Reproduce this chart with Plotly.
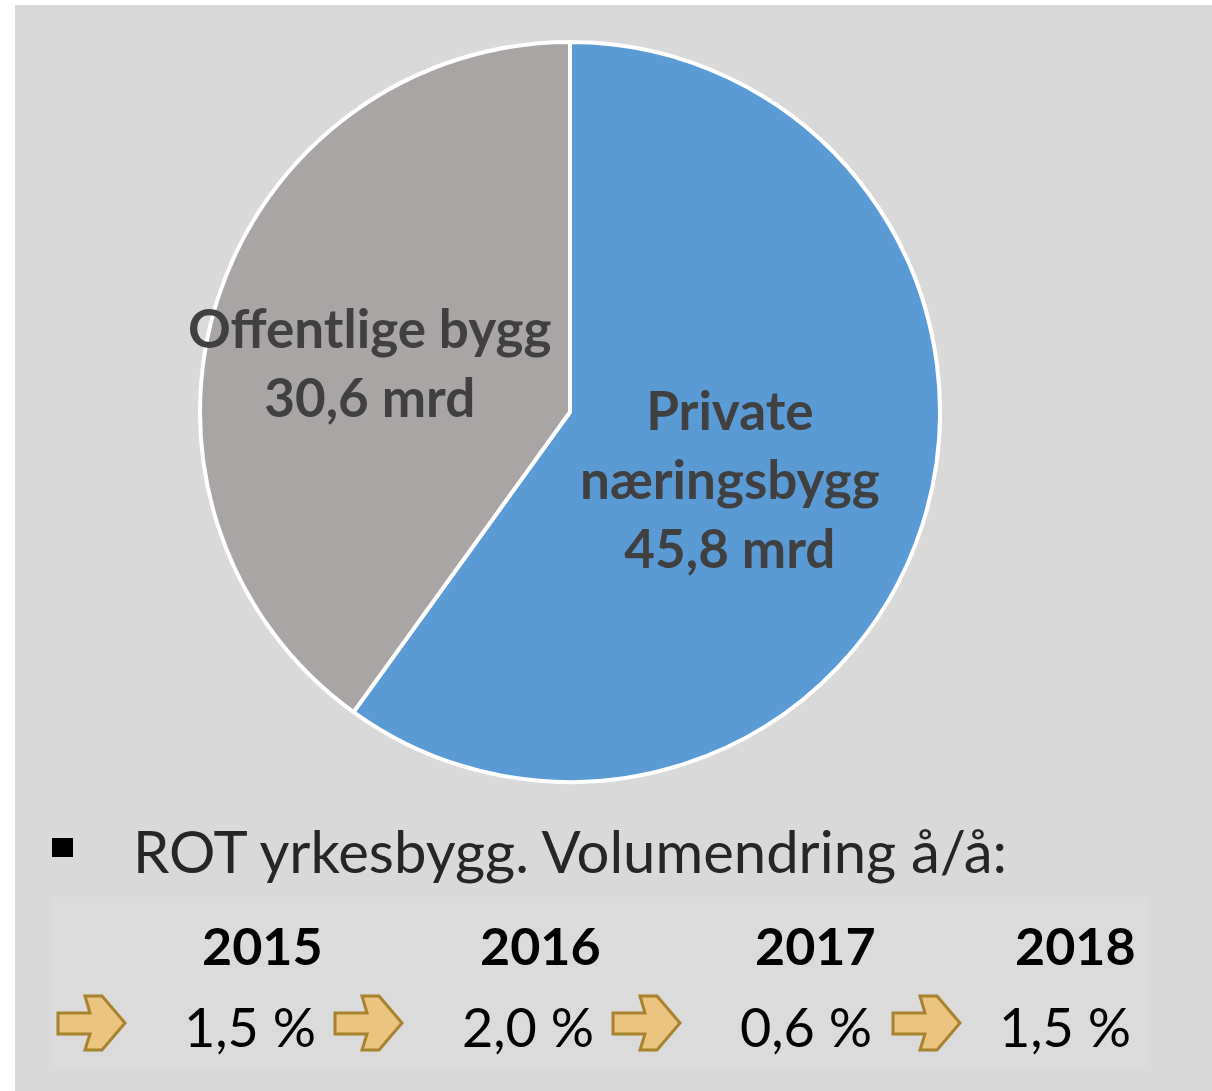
import plotly.graph_objects as go

# ---- data ----
categories = ["Private næringsbygg", "Offentlige bygg"]
pie_label_text = ["Private<br>næringsbygg", "Offentlige bygg"]
values = [45.8, 30.6]
colors = ["#5b9bd5", "#a9a5a4"]
unit = "mrd"

bullet_text = "ROT yrkesbygg. Volumendring å/å:"
years = ["2015", "2016", "2017", "2018"]
changes = [1.5, 2.0, 0.6, 1.5]

W, H = 1212, 1091


def X(px):
    return px / W


def Y(py):
    return 1 - py / H


def fmt(v):
    return f"{v:.1f}".replace(".", ",")


fig = go.Figure()
fig.add_trace(go.Pie(
    labels=categories,
    values=values,
    marker=dict(colors=colors, line=dict(color="white", width=4)),
    sort=False,
    direction="clockwise",
    rotation=0,
    textinfo="none",
    hoverinfo="label+value",
    showlegend=False,
    domain=dict(x=[X(200), X(940)], y=[Y(782), Y(42)]),
))

shapes = []
# gray panel
shapes.append(dict(type="rect", xref="paper", yref="paper", x0=X(15), x1=1, y0=0, y1=Y(5),
                   fillcolor="#d9d9d9", line=dict(width=0), layer="below"))
# subtle inner table box
shapes.append(dict(type="rect", xref="paper", yref="paper", x0=X(52), x1=X(1147), y0=Y(1068), y1=Y(897),
                   fillcolor="#dbdbdb", line=dict(width=0), layer="below"))
# bullet square
shapes.append(dict(type="rect", xref="paper", yref="paper", x0=X(52), x1=X(73), y0=Y(857), y1=Y(838),
                   fillcolor="#000000", line=dict(width=0)))

annotations = []
# pie labels
label_pos = [(730, 478), (370, 362)]
for txt, v, (cx, cy) in zip(pie_label_text, values, label_pos):
    annotations.append(dict(
        x=X(cx), y=Y(cy), xref="paper", yref="paper", showarrow=False,
        text=f"<b>{txt}<br>{fmt(v)} {unit}</b>",
        font=dict(family="Lato", size=53, color="#404040"),
        xanchor="center", yanchor="middle",
    ))

annotations.append(dict(
    x=X(131), y=Y(850), xref="paper", yref="paper", showarrow=False,
    text=bullet_text, font=dict(family="Lato", size=58, color="#262626"),
    xanchor="left", yanchor="middle",
))

year_x = [262, 540, 815, 1075]
pct_x = [250, 528, 806, 1065]
arrow_x = [58, 335, 613, 893]
for yr, ch, yx, px_, ax in zip(years, changes, year_x, pct_x, arrow_x):
    annotations.append(dict(
        x=X(yx), y=Y(945), xref="paper", yref="paper", showarrow=False,
        text=f"<b>{yr}</b>", font=dict(family="Lato", size=52, color="#000000"),
        xanchor="center", yanchor="middle",
    ))
    annotations.append(dict(
        x=X(px_), y=Y(1026), xref="paper", yref="paper", showarrow=False,
        text=f"{fmt(ch)} %", font=dict(family="Lato", size=54, color="#000000"),
        xanchor="center", yanchor="middle",
    ))
    pts = [(0, 1013), (32, 1013), (27, 996), (44, 996), (67, 1023), (44, 1050), (27, 1050), (32, 1034), (0, 1034)]
    path = "M " + " L ".join(f"{X(ax + dx):.5f},{Y(py):.5f}" for dx, py in pts) + " Z"
    shapes.append(dict(type="path", xref="paper", yref="paper", path=path,
                       fillcolor="#ebc47f", line=dict(color="#a8822d", width=3)))

fig.update_layout(
    width=W, height=H,
    margin=dict(l=0, r=0, t=0, b=0),
    paper_bgcolor="white",
    plot_bgcolor="white",
    shapes=shapes,
    annotations=annotations,
)

fig.write_html("out.html", config={"displayModeBar": False},
               post_script="document.body.style.margin='0';document.body.style.overflow='hidden';")
